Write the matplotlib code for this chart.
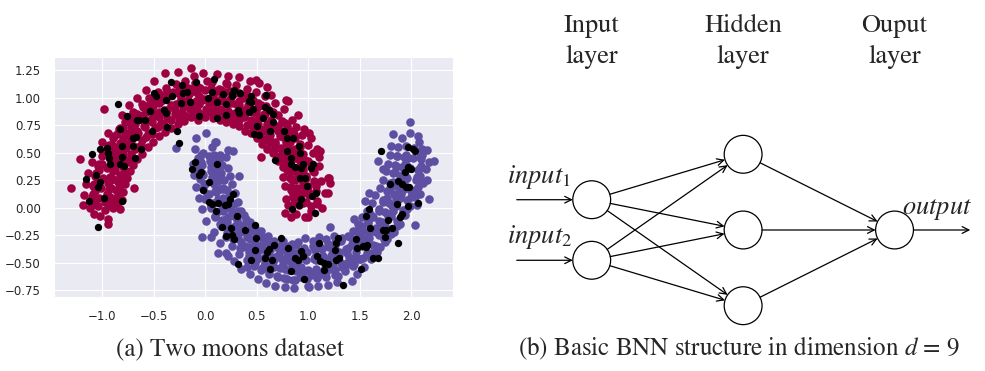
import numpy as np
import matplotlib
matplotlib.use("Agg")
import matplotlib.pyplot as plt
import seaborn as sns
from matplotlib.patches import Circle

sns.set_style("darkgrid")
plt.rcParams['mathtext.fontset'] = 'stix'

# two moons: upper moon (class 0)
moon0_pts = np.array([
    (0.80, 0.02), (0.88, -0.06), (0.95, 0.04), (1.02, -0.03), (1.08, 0.06), (0.85, 0.10), (0.97, -0.09), (1.13, 0.00),
    (0.83, 0.16), (0.92, 0.12), (1.00, 0.15), (1.07, 0.20), (1.16, 0.13), (0.78, 0.08), (0.95, 0.22),
    (0.84, 0.25), (0.90, 0.30), (0.98, 0.27), (1.05, 0.32), (1.12, 0.24), (0.77, 0.20), (1.20, 0.27),
    (0.80, 0.33), (0.87, 0.36), (0.95, 0.34), (1.02, 0.40), (1.10, 0.38), (0.75, 0.28), (0.92, 0.42),
    (0.75, 0.37), (0.82, 0.41), (0.90, 0.45), (0.97, 0.43), (1.04, 0.50), (1.10, 0.46), (0.86, 0.50),
    (0.70, 0.42), (0.78, 0.47), (0.85, 0.52), (0.92, 0.55), (1.00, 0.57), (1.08, 0.53), (0.80, 0.58),
    (0.66, 0.50), (0.73, 0.53), (0.80, 0.60), (0.87, 0.63), (0.94, 0.66), (1.02, 0.63), (0.75, 0.64),
    (0.60, 0.53), (0.68, 0.58), (0.75, 0.65), (0.82, 0.70), (0.88, 0.73), (0.96, 0.71), (0.70, 0.72),
    (0.55, 0.58), (0.62, 0.64), (0.70, 0.70), (0.77, 0.77), (0.84, 0.80), (0.64, 0.78), (0.90, 0.84),
    (0.50, 0.63), (0.57, 0.70), (0.64, 0.77), (0.70, 0.84), (0.76, 0.90), (0.58, 0.85), (0.80, 0.97),
    (0.44, 0.68), (0.50, 0.75), (0.56, 0.82), (0.62, 0.89), (0.68, 0.95), (0.52, 0.92), (0.64, 1.02),
    (0.38, 0.70), (0.44, 0.78), (0.49, 0.86), (0.54, 0.93), (0.58, 1.01), (0.46, 0.98), (0.60, 1.10),
    (0.33, 0.74), (0.37, 0.82), (0.41, 0.89), (0.45, 0.97), (0.49, 1.05), (0.38, 1.02), (0.52, 1.13),
    (0.27, 0.76), (0.30, 0.84), (0.33, 0.93), (0.36, 1.00), (0.40, 1.08), (0.29, 1.06), (0.43, 1.15),
    (0.20, 0.78), (0.23, 0.86), (0.25, 0.95), (0.27, 1.03), (0.30, 1.11), (0.21, 1.12), (0.33, 1.19),
    (0.14, 0.80), (0.16, 0.88), (0.17, 0.97), (0.19, 1.05), (0.20, 1.13), (0.13, 1.08), (0.22, 1.20),
    (0.07, 0.81), (0.08, 0.90), (0.09, 0.98), (0.10, 1.06), (0.06, 1.14), (0.11, 1.21), (0.04, 0.93),
    (0.00, 0.82), (0.01, 0.90), (-0.01, 0.99), (0.00, 1.07), (0.02, 1.15), (-0.02, 1.22), (0.03, 0.95),
    (-0.07, 0.80), (-0.08, 0.89), (-0.09, 0.97), (-0.09, 1.05), (-0.10, 1.13), (-0.11, 1.20), (-0.06, 1.01),
    (-0.14, 0.82), (-0.15, 0.90), (-0.17, 0.98), (-0.18, 1.07), (-0.20, 1.15), (-0.14, 1.27), (-0.16, 1.03),
    (-0.21, 0.79), (-0.23, 0.87), (-0.25, 0.96), (-0.27, 1.04), (-0.29, 1.12), (-0.27, 1.235), (-0.24, 1.00),
    (-0.27, 0.76), (-0.30, 0.85), (-0.33, 0.93), (-0.35, 1.01), (-0.38, 1.09), (-0.39, 1.225), (-0.31, 1.05),
    (-0.33, 0.72), (-0.37, 0.81), (-0.40, 0.89), (-0.43, 0.97), (-0.46, 1.05), (-0.50, 1.15), (-0.41, 1.02),
    (-0.39, 0.69), (-0.43, 0.77), (-0.47, 0.85), (-0.51, 0.92), (-0.55, 1.00), (-0.45, 0.95), (-0.58, 1.07),
    (-0.45, 0.65), (-0.49, 0.72), (-0.54, 0.80), (-0.58, 0.87), (-0.62, 0.94), (-0.52, 0.88), (-0.66, 1.00),
    (-0.51, 0.60), (-0.56, 0.67), (-0.60, 0.74), (-0.65, 0.81), (-0.70, 0.87), (-0.61, 0.84), (-0.74, 0.93),
    (-0.56, 0.55), (-0.62, 0.61), (-0.67, 0.67), (-0.72, 0.73), (-0.78, 0.78), (-0.68, 0.76), (-0.81, 0.84),
    (-0.62, 0.49), (-0.67, 0.55), (-0.72, 0.61), (-0.78, 0.66), (-0.84, 0.71), (-0.74, 0.68), (-0.98, 0.895),
    (-0.66, 0.44), (-0.72, 0.49), (-0.77, 0.54), (-0.83, 0.59), (-0.90, 0.63), (-0.80, 0.62), (-0.95, 0.68),
    (-0.70, 0.39), (-0.76, 0.43), (-0.82, 0.48), (-0.88, 0.51), (-0.95, 0.55), (-0.85, 0.55), (-1.00, 0.60),
    (-0.73, 0.33), (-0.80, 0.37), (-0.86, 0.41), (-0.93, 0.44), (-1.00, 0.47), (-0.90, 0.48), (-1.22, 0.44),
    (-0.76, 0.27), (-0.83, 0.30), (-0.90, 0.33), (-0.96, 0.36), (-1.04, 0.38), (-1.10, 0.41), (-0.88, 0.38),
    (-0.78, 0.21), (-0.85, 0.23), (-0.92, 0.25), (-0.99, 0.27), (-1.07, 0.29), (-1.14, 0.31), (-0.69, 0.175),
    (-0.80, 0.14), (-0.87, 0.16), (-0.94, 0.17), (-1.01, 0.18), (-1.09, 0.20), (-1.16, 0.21), (-1.30, 0.175),
    (-0.81, 0.07), (-0.88, 0.08), (-0.96, 0.08), (-1.03, 0.09), (-1.10, 0.10), (-1.18, 0.11), (-0.92, 0.03),
    (-0.83, -0.01), (-0.90, 0.00), (-0.97, -0.02), (-1.04, 0.01), (-1.12, 0.00), (-1.19, 0.02), (-0.95, -0.10),
    (-1.02, -0.08), (-0.945, -0.145), (-1.08, -0.06),
    (0.495, 1.16), (0.78, 0.98), (1.01, 0.68), (1.11, 0.51), (1.19, 0.265), (0.54, 0.46), (1.21, 0.22),
    (1.19, 0.13), (0.77, -0.05), (0.835, -0.085), (1.00, -0.085),
    (0.86, 0.04), (0.98, 0.05), (1.08, 0.03), (0.85, 0.12), (0.95, 0.13), (1.07, 0.15),
    (0.83, 0.19), (0.96, 0.20), (1.05, 0.24), (0.82, 0.27), (0.93, 0.28), (1.04, 0.33),
    (0.79, 0.34), (0.91, 0.36), (1.00, 0.42), (0.76, 0.41), (0.87, 0.45), (0.95, 0.49),
    (0.72, 0.47), (0.81, 0.51), (0.92, 0.58), (0.67, 0.52), (0.78, 0.60), (0.86, 0.67),
    (0.63, 0.59), (0.72, 0.65), (0.79, 0.74), (0.57, 0.62), (0.66, 0.72), (0.74, 0.79),
    (0.52, 0.69), (0.60, 0.76), (0.66, 0.87), (0.46, 0.73), (0.51, 0.81), (0.59, 0.92),
    (0.40, 0.75), (0.46, 0.87), (0.51, 0.95), (0.33, 0.80), (0.37, 0.89), (0.41, 1.01),
    (0.26, 0.81), (0.30, 0.94), (0.33, 1.04), (0.19, 0.85), (0.21, 0.94), (0.24, 1.06),
    (0.11, 0.84), (0.13, 0.97), (0.15, 1.07), (0.04, 0.87), (0.05, 0.97), (0.05, 1.09),
    (-0.04, 0.85), (-0.03, 0.98), (-0.05, 1.09), (-0.11, 0.86), (-0.13, 0.95), (-0.14, 1.08),
    (-0.19, 0.83), (-0.21, 0.96), (-0.23, 1.06), (-0.26, 0.81), (-0.29, 0.94), (-0.33, 1.04),
    (-0.33, 0.80), (-0.37, 0.89), (-0.41, 1.01), (-0.40, 0.75), (-0.45, 0.87), (-0.50, 0.95),
    (-0.46, 0.73), (-0.52, 0.81), (-0.58, 0.92), (-0.52, 0.67), (-0.59, 0.78), (-0.66, 0.85),
    (-0.58, 0.64), (-0.66, 0.70), (-0.73, 0.81), (-0.63, 0.57), (-0.71, 0.67), (-0.80, 0.72),
    (-0.68, 0.53), (-0.77, 0.58), (-0.86, 0.67), (-0.72, 0.45), (-0.82, 0.53), (-0.91, 0.57),
    (-0.76, 0.41), (-0.86, 0.44), (-0.96, 0.51), (-0.79, 0.32), (-0.90, 0.38), (-1.00, 0.40),
    (-0.82, 0.27), (-0.93, 0.28), (-1.03, 0.34), (-0.84, 0.18), (-0.95, 0.22), (-1.05, 0.22),
    (-0.85, 0.12), (-0.96, 0.12), (-1.07, 0.15), (-0.86, 0.03), (-0.97, 0.05), (-1.08, 0.04),
    (0.91, 0.02), (1.02, 0.01), (0.90, 0.10), (1.01, 0.11), (0.89, 0.18), (1.00, 0.20),
    (0.87, 0.25), (0.98, 0.29), (0.85, 0.33), (0.95, 0.37), (0.82, 0.40), (0.91, 0.45),
    (0.78, 0.47), (0.87, 0.53), (0.73, 0.54), (0.82, 0.60), (0.68, 0.60), (0.77, 0.67),
    (0.63, 0.66), (0.70, 0.74), (0.57, 0.71), (0.64, 0.80), (0.51, 0.76), (0.57, 0.85),
    (0.44, 0.80), (0.49, 0.89), (0.37, 0.83), (0.41, 0.93), (0.29, 0.86), (0.33, 0.97),
    (0.22, 0.88), (0.24, 0.99), (0.14, 0.90), (0.16, 1.01), (0.06, 0.91), (0.07, 1.02),
    (-0.06, 0.94), (-0.07, 1.10), (-0.14, 0.93), (-0.17, 1.09), (-0.22, 0.91), (-0.26, 1.07),
    (-0.30, 0.89), (-0.35, 1.04), (-0.38, 0.86), (-0.44, 1.01), (-0.45, 0.82), (-0.53, 0.96),
    (-0.52, 0.78), (-0.61, 0.91), (-0.59, 0.73), (-0.69, 0.86), (-0.65, 0.68), (-0.76, 0.79),
    (-0.71, 0.62), (-0.83, 0.72), (-0.76, 0.56), (-0.89, 0.65), (-0.80, 0.49), (-0.94, 0.57),
    (-0.84, 0.42), (-0.99, 0.49), (-0.88, 0.34), (-1.03, 0.40), (-0.90, 0.26), (-1.06, 0.31),
    (-0.92, 0.18), (-1.08, 0.21), (-0.93, 0.10), (-1.09, 0.12), (-0.94, 0.02), (-1.10, 0.02),
])

# lower moon (class 1)
moon1_pts = np.array([
    (0.22, 0.52), (0.14, 0.48), (0.06, 0.55), (-0.02, 0.50), (-0.10, 0.53), (0.10, 0.60), (0.01, 0.675),
    (-0.09, 0.63), (-0.29, 0.54), (0.09, 0.60), (0.27, 0.51), (0.33, 0.29),
    (0.20, 0.46), (0.12, 0.43), (0.04, 0.42), (-0.04, 0.41), (-0.12, 0.40), (0.08, 0.36),
    (0.22, 0.36), (0.13, 0.34), (0.05, 0.33), (-0.03, 0.31), (-0.11, 0.30), (0.10, 0.27),
    (0.24, 0.29), (0.15, 0.26), (0.07, 0.23), (-0.01, 0.21), (-0.09, 0.19), (0.17, 0.18),
    (0.26, 0.21), (0.17, 0.17), (0.09, 0.15), (0.02, 0.12), (-0.06, 0.09), (0.12, 0.08),
    (0.29, 0.13), (0.21, 0.09), (0.13, 0.05), (0.05, 0.01), (-0.03, -0.01), (0.16, -0.02),
    (0.32, 0.05), (0.24, 0.00), (0.17, -0.03), (0.09, -0.08), (0.01, -0.12), (0.20, -0.10),
    (0.35, -0.03), (0.28, -0.08), (0.21, -0.13), (0.15, -0.17), (0.08, -0.22), (0.26, -0.19), (0.05, -0.27),
    (0.39, -0.10), (0.33, -0.16), (0.26, -0.21), (0.20, -0.27), (0.14, -0.32), (0.30, -0.28),
    (0.44, -0.16), (0.38, -0.22), (0.32, -0.28), (0.26, -0.35), (0.20, -0.41), (0.36, -0.36),
    (0.49, -0.22), (0.43, -0.29), (0.38, -0.35), (0.33, -0.42), (0.28, -0.49), (0.42, -0.44), (0.22, -0.44),
    (0.54, -0.26), (0.49, -0.34), (0.44, -0.41), (0.40, -0.48), (0.35, -0.56), (0.48, -0.50),
    (0.59, -0.30), (0.55, -0.38), (0.51, -0.46), (0.47, -0.53), (0.43, -0.60), (0.55, -0.55),
    (0.65, -0.34), (0.61, -0.42), (0.58, -0.50), (0.54, -0.57), (0.51, -0.65), (0.62, -0.58),
    (0.71, -0.36), (0.68, -0.45), (0.65, -0.53), (0.62, -0.60), (0.59, -0.69), (0.69, -0.62),
    (0.77, -0.39), (0.74, -0.47), (0.72, -0.55), (0.70, -0.63), (0.68, -0.71), (0.76, -0.64),
    (0.83, -0.40), (0.82, -0.49), (0.80, -0.57), (0.79, -0.65), (0.77, -0.72), (0.85, -0.66),
    (0.90, -0.41), (0.89, -0.50), (0.88, -0.58), (0.87, -0.66), (0.86, -0.73), (0.92, -0.63),
    (0.99, -0.40), (0.98, -0.48), (1.00, -0.57), (0.99, -0.65), (1.01, -0.72), (1.02, -0.61),
    (1.06, -0.39), (1.07, -0.48), (1.07, -0.56), (1.08, -0.64), (1.09, -0.71),
    (1.13, -0.38), (1.15, -0.47), (1.16, -0.55), (1.17, -0.63), (1.19, -0.70), (1.12, -0.60),
    (1.20, -0.36), (1.22, -0.44), (1.24, -0.53), (1.26, -0.61), (1.28, -0.68), (1.19, -0.52),
    (1.26, -0.34), (1.29, -0.42), (1.32, -0.50), (1.35, -0.58), (1.29, -0.62), (1.42, -0.67),
    (0.90, -0.31), (0.97, -0.28), (1.04, -0.30), (1.10, -0.27), (0.84, -0.33), (1.17, -0.29), (0.75, -0.30), (1.25, -0.26),
    (1.32, -0.30), (1.36, -0.38), (1.39, -0.45), (1.43, -0.53), (1.47, -0.60), (1.37, -0.50),
    (1.38, -0.26), (1.42, -0.33), (1.46, -0.40), (1.50, -0.47), (1.54, -0.54), (1.44, -0.46),
    (1.43, -0.21), (1.48, -0.28), (1.52, -0.35), (1.57, -0.41), (1.61, -0.47), (1.51, -0.22),
    (1.48, -0.15), (1.53, -0.21), (1.58, -0.28), (1.63, -0.34), (1.67, -0.40), (1.44, -0.10),
    (1.52, -0.09), (1.58, -0.14), (1.63, -0.20), (1.68, -0.25), (1.74, -0.31), (1.60, -0.06),
    (1.57, -0.03), (1.62, -0.08), (1.68, -0.12), (1.74, -0.17), (1.80, -0.22), (1.55, 0.06),
    (1.62, 0.04), (1.68, -0.01), (1.74, -0.04), (1.80, -0.08), (1.86, -0.12), (1.59, 0.13),
    (1.65, 0.11), (1.72, 0.07), (1.78, 0.04), (1.85, 0.01), (1.92, -0.02), (1.88, -0.15),
    (1.69, 0.18), (1.76, 0.15), (1.83, 0.12), (1.89, 0.09), (1.96, 0.07), (2.05, 0.02),
    (1.72, 0.25), (1.79, 0.22), (1.86, 0.20), (1.93, 0.17), (2.00, 0.15), (2.08, 0.12),
    (1.75, 0.33), (1.82, 0.31), (1.89, 0.29), (1.96, 0.27), (2.04, 0.25), (2.11, 0.22),
    (1.77, 0.40), (1.84, 0.39), (1.91, 0.37), (1.99, 0.36), (2.06, 0.34), (2.14, 0.35),
    (1.79, 0.48), (1.86, 0.47), (1.93, 0.46), (2.01, 0.45), (2.09, 0.44), (2.17, 0.41),
    (1.80, 0.56), (1.87, 0.55), (1.95, 0.56), (2.02, 0.54), (2.10, 0.53), (1.91, 0.63),
    (1.99, 0.68), (1.99, 0.78), (2.07, 0.60),
    (1.82, 0.665), (2.06, 0.65), (2.15, 0.52), (2.22, 0.42), (1.675, 0.42), (1.72, 0.35),
    (2.15, 0.25), (2.17, 0.08), (2.03, -0.16), (1.21, -0.175), (-0.03, -0.265), (0.12, -0.41), (0.40, -0.54),
    (1.00, -0.71),
    (0.14, 0.45), (0.03, 0.47), (-0.07, 0.45), (0.16, 0.39), (0.05, 0.37), (-0.07, 0.35),
    (0.15, 0.31), (0.06, 0.28), (-0.05, 0.26), (0.18, 0.25), (0.08, 0.21), (-0.02, 0.17),
    (0.21, 0.16), (0.10, 0.14), (0.00, 0.08), (0.23, 0.10), (0.14, 0.04), (0.05, 0.00),
    (0.28, 0.03), (0.18, -0.01), (0.09, -0.09), (0.32, -0.03), (0.22, -0.09), (0.14, -0.15),
    (0.37, -0.07), (0.29, -0.17), (0.21, -0.23), (0.43, -0.13), (0.34, -0.22), (0.27, -0.29),
    (0.48, -0.19), (0.40, -0.27), (0.34, -0.37), (0.54, -0.21), (0.48, -0.33), (0.42, -0.40),
    (0.61, -0.26), (0.55, -0.37), (0.50, -0.47), (0.67, -0.30), (0.63, -0.39), (0.58, -0.51),
    (0.74, -0.33), (0.71, -0.42), (0.67, -0.54), (0.81, -0.35), (0.79, -0.45), (0.77, -0.56),
    (0.88, -0.34), (0.87, -0.47), (0.86, -0.56), (0.96, -0.37), (0.95, -0.46), (0.95, -0.59),
    (1.04, -0.35), (1.05, -0.47), (1.05, -0.59), (1.11, -0.36), (1.12, -0.45), (1.14, -0.58),
    (1.19, -0.33), (1.21, -0.46), (1.23, -0.56), (1.26, -0.31), (1.30, -0.43), (1.33, -0.54),
    (1.33, -0.28), (1.37, -0.41), (1.41, -0.49), (1.40, -0.27), (1.45, -0.35), (1.50, -0.47),
    (1.46, -0.21), (1.53, -0.32), (1.58, -0.42), (1.52, -0.17), (1.59, -0.28), (1.66, -0.35),
    (1.58, -0.12), (1.66, -0.22), (1.73, -0.29), (1.63, -0.09), (1.71, -0.15), (1.80, -0.24),
    (1.68, -0.03), (1.77, -0.08), (1.86, -0.17), (1.72, 0.05), (1.82, -0.03), (1.91, -0.07),
    (1.76, 0.09), (1.86, 0.06), (1.96, -0.01), (1.79, 0.18), (1.90, 0.12), (2.00, 0.10),
    (1.82, 0.23), (1.93, 0.22), (2.03, 0.16), (1.84, 0.32), (1.95, 0.28), (2.05, 0.28),
    (1.85, 0.38), (1.96, 0.38), (2.07, 0.35), (1.86, 0.47), (1.97, 0.45), (2.08, 0.46),
    (0.08, 0.48), (-0.04, 0.48), (0.09, 0.40), (-0.03, 0.39), (0.10, 0.32), (-0.02, 0.30),
    (0.12, 0.24), (0.00, 0.21), (0.14, 0.17), (0.03, 0.12), (0.17, 0.09), (0.07, 0.04),
    (0.21, 0.02), (0.11, -0.04), (0.26, -0.04), (0.16, -0.11), (0.31, -0.11), (0.22, -0.19),
    (0.36, -0.16), (0.28, -0.25), (0.42, -0.22), (0.35, -0.31), (0.49, -0.26), (0.42, -0.36),
    (0.56, -0.31), (0.50, -0.41), (0.63, -0.34), (0.58, -0.45), (0.70, -0.37), (0.67, -0.48),
    (0.78, -0.39), (0.75, -0.51), (0.86, -0.41), (0.84, -0.53), (0.94, -0.42), (0.93, -0.54),
    (1.06, -0.45), (1.07, -0.60), (1.14, -0.44), (1.17, -0.59), (1.23, -0.42), (1.26, -0.57),
    (1.30, -0.40), (1.35, -0.54), (1.38, -0.37), (1.44, -0.51), (1.46, -0.33), (1.53, -0.46),
    (1.53, -0.29), (1.61, -0.41), (1.59, -0.24), (1.69, -0.36), (1.66, -0.19), (1.76, -0.29),
    (1.71, -0.13), (1.83, -0.22), (1.77, -0.06), (1.89, -0.15), (1.81, 0.01), (1.94, -0.07),
    (1.85, 0.08), (1.99, 0.01), (1.89, 0.16), (2.03, 0.10), (1.91, 0.23), (2.06, 0.19),
    (1.93, 0.31), (2.08, 0.29), (1.94, 0.40), (2.09, 0.38), (1.95, 0.48), (2.10, 0.48),
])

# highlighted samples, drawn in black on top
black_pts = np.array([
    (-0.85, 0.94), (-1.10, 0.49), (-1.02, 0.53), (-0.955, 0.54), (-0.945, 0.50), (-0.935, 0.45), (-0.93, 0.40),
    (-0.83, 0.40), (-0.79, 0.38), (-0.81, 0.46), (-0.81, 0.56), (-0.70, 0.63), (-0.67, 0.64), (-0.70, 0.56),
    (-0.63, 0.53), (-0.68, 0.45), (-0.825, 0.71), (-0.76, 0.83), (-0.66, 0.80), (-0.64, 0.80), (-0.59, 0.80),
    (-0.52, 0.70), (-0.54, 0.88), (-0.50, 1.04), (-0.475, 1.01), (-0.38, 0.98), (-0.32, 1.01), (-0.33, 1.14),
    (-0.23, 1.11), (-0.40, 0.89), (-0.38, 0.86), (-0.24, 0.95), (-0.22, 1.04), (-0.18, 1.05), (-0.15, 0.96),
    (-0.09, 1.14), (-0.37, 0.73), (-0.28, 0.70), (-0.26, 0.59), (-0.065, 0.83), (0.025, 1.00), (0.06, 1.05),
    (0.08, 1.17), (0.11, 0.81), (0.11, 0.96), (0.17, 1.03), (0.20, 0.94), (0.20, 0.84), (0.26, 1.03),
    (0.28, 1.07), (0.32, 0.89), (0.33, 0.86), (0.34, 1.04), (0.42, 0.97), (0.42, 0.87),
    (-0.13, 0.35), (-0.10, 0.41), (-0.06, 0.30), (0.11, 0.40), (0.03, 0.23),
    (0.26, 1.01), (0.44, 1.01), (0.44, 0.96), (0.46, 0.90), (0.585, 1.02), (0.575, 0.91), (0.62, 0.89),
    (0.66, 0.85), (0.56, 0.81), (0.66, 0.78), (0.50, 0.74), (0.47, 0.67), (0.52, 0.66), (0.63, 0.70),
    (0.76, 0.70), (0.79, 0.63), (0.85, 0.63), (0.91, 0.56), (0.79, 0.51), (0.92, 0.50), (0.68, 0.43),
    (0.83, 0.45), (0.835, 0.40), (0.87, 0.37), (0.93, 0.36), (0.95, 0.40), (1.02, 0.36), (1.045, 0.40),
    (0.915, 0.27), (0.965, 0.27), (0.99, 0.20),
    (1.70, 0.51), (1.97, 0.55), (2.01, 0.53), (2.03, 0.51), (1.97, 0.37), (2.00, 0.35), (1.94, 0.32),
    (1.87, 0.24), (1.91, 0.21), (1.79, 0.21), (1.98, 0.19),
    (-1.155, 0.26), (-1.06, 0.30), (-1.025, 0.23), (-1.04, 0.19), (-0.98, 0.09), (-1.13, 0.06), (-0.81, 0.06),
    (-1.04, -0.18),
    (-0.045, 0.325), (-0.02, 0.16), (0.03, 0.05), (0.065, 0.03), (0.12, 0.04), (0.10, -0.03), (0.19, 0.02),
    (0.22, 0.03), (0.235, 0.08), (0.27, 0.12), (0.31, -0.08), (0.165, -0.175), (0.25, -0.19), (0.20, -0.26),
    (0.26, -0.25), (0.28, -0.285), (0.38, -0.20), (0.32, -0.51),
    (1.07, 0.135), (1.03, 0.105), (0.93, 0.08), (0.91, 0.02), (0.845, -0.01), (1.06, -0.045),
    (0.48, -0.16), (0.49, -0.275), (0.48, -0.39), (0.445, -0.48), (0.58, -0.46), (0.60, -0.40), (0.62, -0.38),
    (0.65, -0.48), (0.63, -0.56), (0.67, -0.34), (0.73, -0.275), (0.80, -0.37), (0.835, -0.575), (0.87, -0.455),
    (0.90, -0.48), (0.93, -0.395), (0.95, -0.44), (0.955, -0.65), (1.08, -0.44), (1.10, -0.325), (1.11, -0.49),
    (1.15, -0.50), (1.185, -0.51), (1.15, -0.57), (1.255, -0.39), (1.27, -0.325), (1.29, -0.28), (1.30, -0.46),
    (1.27, -0.48), (1.335, -0.70), (1.46, -0.29), (1.475, -0.365), (1.51, -0.56), (1.525, -0.35), (1.555, -0.36),
    (1.59, -0.015), (1.595, -0.19), (1.56, -0.08), (1.57, -0.34), (1.63, -0.46), (1.675, -0.455), (1.72, -0.205),
    (1.74, -0.265), (1.755, -0.205), (1.81, -0.19), (1.77, -0.11), (1.855, 0.03), (1.87, -0.325), (1.89, -0.085),
    (1.91, -0.06), (1.95, 0.19), (1.97, 0.013), (2.065, 0.04),
])

# network layout
layer_names = ['Input', 'Hidden', 'Ouput']
layer_x = [0, 2, 4]
layer_y = [[0.4, -0.4], [1, 0, -1], [0]]
node_r = 0.25

serif = 'STIXGeneral'

fig = plt.figure(figsize=(9.85, 3.71), dpi=100)

# (a) scatter of the two moons
ax = fig.add_axes([0.0548, 0.2003, 0.4048, 0.6469])
ax.scatter(moon0_pts[:, 0], moon0_pts[:, 1], s=38, color='#9E0142', linewidths=0)
ax.scatter(moon1_pts[:, 0], moon1_pts[:, 1], s=38, color='#5E4FA2', linewidths=0)
ax.scatter(black_pts[:, 0], black_pts[:, 1], s=28, color='black', linewidths=0)
ax.set_xlim(-1.47, 2.40)
ax.set_ylim(-0.81, 1.371)
ax.set_xticks([-1.0, -0.5, 0.0, 0.5, 1.0, 1.5, 2.0])
ax.set_yticks([-0.75, -0.5, -0.25, 0.0, 0.25, 0.5, 0.75, 1.0, 1.25])
ax.tick_params(labelsize=8.5, colors='.15', pad=6)

# (b) network diagram
ax2 = fig.add_axes([0.4975, 0.1105, 0.5025, 0.8895])
ax2.set_xlim(-1.343, 5.195)
ax2.set_ylim(-1.321, 3.038)
ax2.axis('off')


def link(p, q, r0, r1):
    d = np.subtract(q, p)
    u = d / np.hypot(*d)
    ax2.annotate('', xy=np.array(q) - r1 * u, xytext=np.array(p) + r0 * u,
                 arrowprops=dict(arrowstyle='->', lw=0.9, color='k',
                                 shrinkA=0, shrinkB=0, mutation_scale=12))


for lx, ys in zip(layer_x, layer_y):
    for y in ys:
        ax2.add_patch(Circle((lx, y), node_r, facecolor='white', edgecolor='black', lw=0.9, zorder=3))

for i in range(len(layer_x) - 1):
    for y0 in layer_y[i]:
        for y1 in layer_y[i + 1]:
            link((layer_x[i], y0), (layer_x[i + 1], y1), node_r, node_r)

for y in layer_y[0]:
    link((-0.99, y), (layer_x[0], y), 0, node_r)
link((layer_x[-1], 0), (5.0, 0), node_r, 0)

for lx, name in zip(layer_x, layer_names):
    ax2.text(lx, 2.61, name, ha='center', va='baseline', fontsize=19, family=serif)
    ax2.text(lx, 2.20, 'layer', ha='center', va='baseline', fontsize=19, family=serif)

ax2.text(-1.123, 0.617, r'$input_1$', ha='left', va='baseline', fontsize=19)
ax2.text(-1.123, -0.176, r'$input_2$', ha='left', va='baseline', fontsize=19)
ax2.text(4.10, 0.207, r'$output$', ha='left', va='baseline', fontsize=19)

fig.text(0.233, 0.043, '(a) Two moons dataset', ha='center', va='baseline', fontsize=18, family=serif)
fig.text(0.75, 0.043, r'(b) Basic BNN structure in dimension $d$ = 9', ha='center', va='baseline',
         fontsize=18, family=serif)

fig.savefig('out.png', dpi=100)
